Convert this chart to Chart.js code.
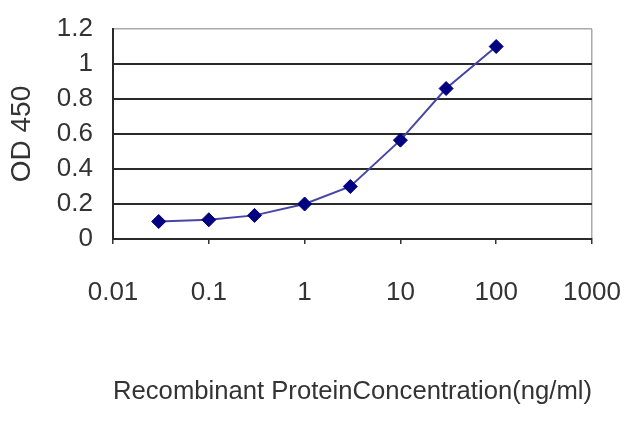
<!DOCTYPE html>
<html>
<head>
<meta charset="utf-8">
<script src="https://cdn.jsdelivr.net/npm/chart.js@4/dist/chart.umd.min.js"></script>
<style>
  html, body { margin: 0; padding: 0; background: #ffffff; }
  #wrap { width: 640px; height: 427px; }
</style>
</head>
<body>
<div id="wrap"><canvas id="c" width="640" height="427"></canvas></div>
<script>
// Data
const concentrations = [0.03, 0.1, 0.3, 1, 3, 10, 30, 100];
const odValues = [0.10, 0.11, 0.135, 0.20, 0.30, 0.565, 0.86, 1.10];
const xTickValues = [0.01, 0.1, 1, 10, 100, 1000];
const xTickLabels = ['0.01', '0.1', '1', '10', '100', '1000'];
const yTickValues = [0, 0.2, 0.4, 0.6, 0.8, 1, 1.2];
const yTickLabels = ['0', '0.2', '0.4', '0.6', '0.8', '1', '1.2'];
const xTitle = 'Recombinant ProteinConcentration(ng/ml)';
const yTitle = 'OD 450';

const points = concentrations.map((c, i) => ({ x: c, y: odValues[i] }));
const FONT = "'Liberation Sans', Arial, sans-serif";

new Chart(document.getElementById('c'), {
  type: 'line',
  data: {
    datasets: [{
      data: points,
      borderColor: '#4646a6',
      borderWidth: 2,
      backgroundColor: '#000080',
      pointBackgroundColor: '#000080',
      pointBorderColor: '#000080',
      pointStyle: 'rectRot',
      pointRadius: 7,
      pointBorderWidth: 1,
      tension: 0,
      fill: false
    }]
  },
  options: {
    responsive: false,
    animation: false,
    devicePixelRatio: 1,
    layout: { padding: { top: 29, right: 48, bottom: 0, left: 0 } },
    plugins: { legend: { display: false }, tooltip: { enabled: false } },
    scales: {
      x: {
        type: 'logarithmic',
        position: 'bottom',
        min: 0.01,
        max: 1000,
        afterBuildTicks: (s) => { s.ticks = xTickValues.map(v => ({ value: v })); },
        afterFit: (s) => { s.height = 188; s.paddingLeft = 0; s.paddingRight = 0; },
        ticks: {
          autoSkip: false,
          maxRotation: 0,
          minRotation: 0,
          padding: 33,
          color: '#333333',
          font: { family: FONT, size: 26 },
          callback: (v) => { const i = xTickValues.indexOf(v); return i >= 0 ? xTickLabels[i] : ''; }
        },
        grid: {
          drawOnChartArea: true,
          drawTicks: true,
          tickLength: 5,
          tickColor: '#333333',
          tickWidth: 1.5,
          color: (ctx) => (ctx.tick && ctx.tick.value === 1000) ? '#aaaaaa' : 'rgba(0,0,0,0)',
          lineWidth: 1.5
        },
        border: { display: true, color: '#2a2a2a', width: 2 },
        title: {
          display: true,
          text: xTitle,
          color: '#333333',
          font: { family: FONT, size: 26 },
          padding: { top: 0, bottom: 20 }
        }
      },
      y: {
        type: 'linear',
        min: 0,
        max: 1.2,
        afterBuildTicks: (s) => { s.ticks = yTickValues.map(v => ({ value: v })); },
        afterFit: (s) => { s.width = 113; s.paddingTop = 0; s.paddingBottom = 0; },
        ticks: {
          autoSkip: false,
          padding: 20,
          color: '#333333',
          font: { family: FONT, size: 26 },
          callback: (v) => { const i = yTickValues.findIndex(t => Math.abs(t - v) < 1e-9); return i >= 0 ? yTickLabels[i] : ''; }
        },
        grid: {
          drawTicks: false,
          color: (ctx) => (ctx.tick && Math.abs(ctx.tick.value - 1.2) < 1e-9) ? '#aaaaaa' : '#2a2a2a',
          lineWidth: (ctx) => (ctx.tick && Math.abs(ctx.tick.value - 1.2) < 1e-9) ? 1.5 : 2
        },
        border: { display: true, color: '#2a2a2a', width: 2 },
        title: {
          display: true,
          text: yTitle,
          color: '#333333',
          font: { family: FONT, size: 28 },
          padding: { top: 5, bottom: 0 }
        }
      }
    }
  }
});
</script>
</body>
</html>
